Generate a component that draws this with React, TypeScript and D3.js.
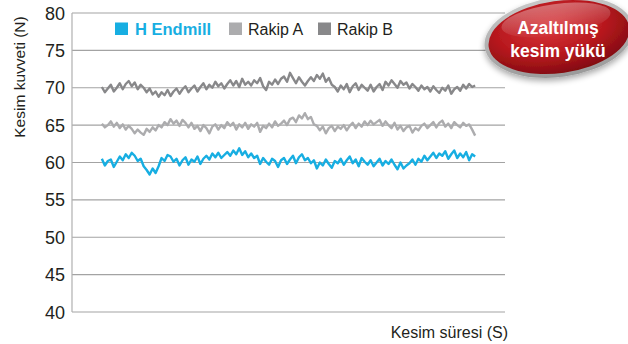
import React from "react";
import * as d3 from "d3";

const yTicks = [40, 45, 50, 55, 60, 65, 70, 75, 80];

const hEndmill = [
  60.5, 59.6, 60.2, 60.4, 59.4, 60.1, 60.8, 60.3, 61.1, 60.6,
  61.3, 60.9, 60.2, 60.5, 59.5, 59.0, 58.4, 59.2, 58.6, 59.5,
  60.6, 60.2, 61.0, 60.8, 60.1, 60.5, 59.6, 60.3, 60.7, 59.7,
  60.4, 60.1, 60.8, 59.8, 60.5, 60.9, 60.4, 61.2, 60.7, 61.3,
  60.6, 61.0, 61.4, 60.9, 61.6, 61.1, 61.9, 61.0, 61.5, 60.7,
  61.2, 60.6, 60.9, 59.8, 60.6, 60.1, 59.7, 60.5, 60.2, 59.4,
  60.3, 60.6, 59.8, 60.4, 60.9, 59.9, 60.7, 61.1, 60.3, 60.6,
  59.9, 60.3, 59.2, 60.0, 59.6, 60.4, 59.8, 59.3, 60.2, 59.9,
  60.5, 59.7, 60.3, 60.8, 59.9, 60.4, 59.5, 60.6, 60.1, 59.7,
  60.3, 59.5, 60.0, 60.5, 59.6, 60.2, 59.8, 60.4, 59.7, 59.1,
  60.0, 59.2, 59.6, 59.9, 60.4, 59.7, 60.5, 60.1, 60.9, 60.3,
  60.8, 61.3, 60.6, 61.2, 60.9, 61.5, 60.5, 61.1, 61.6, 60.6,
  61.2, 60.7, 61.4, 60.3, 61.1, 60.8,
];

const rakipA = [
  65.2, 64.7, 65.0, 65.5, 64.8, 65.3, 64.6, 65.1, 64.4, 64.9,
  64.5, 63.9, 64.4, 64.0, 63.7, 64.5, 64.1, 64.7, 64.3, 65.0,
  64.7, 65.4, 65.0, 65.8, 65.2, 65.6, 64.9, 65.7, 65.3, 64.7,
  65.3, 64.5, 64.9, 64.2, 65.0, 64.6, 63.9, 64.8, 65.1, 64.4,
  65.0, 64.6, 65.4, 64.9, 65.3, 64.4, 65.1, 64.7, 65.3, 64.5,
  65.1, 64.8, 65.3, 64.1, 64.9, 64.6, 65.2, 64.7, 65.5, 64.9,
  65.2, 65.6, 65.0, 65.8, 66.0, 65.4, 66.3, 65.9, 66.6, 65.8,
  66.1, 65.1, 64.9, 64.3, 64.8, 63.9, 64.6, 64.9, 64.2, 64.8,
  64.5, 65.0, 64.3, 64.9, 65.3, 64.6, 65.2, 64.8, 65.5, 65.0,
  65.6, 65.1, 65.4, 65.7, 64.9, 65.5, 65.0, 64.6, 65.3, 64.4,
  64.9, 64.2, 64.7, 64.9, 64.0, 64.6, 64.3, 64.9, 65.2, 64.6,
  65.0, 65.4, 64.7, 65.3, 65.6, 64.8, 65.2, 64.6, 65.4, 65.0,
  64.7, 65.3, 64.9, 65.1, 64.4, 63.6,
];

const rakipB = [
  70.1, 69.4, 69.9, 70.4, 69.5, 70.0, 70.6, 69.8, 70.5, 70.9,
  70.2, 70.7, 69.8, 70.4, 70.0, 69.4, 69.9, 69.1, 69.5, 68.8,
  69.4, 69.0, 69.7, 68.9, 69.5, 69.9, 69.2, 69.8, 70.2, 69.4,
  69.9, 70.3, 69.5, 70.1, 70.6, 69.8, 70.4, 70.0, 70.8, 70.2,
  70.6, 69.9, 70.5, 71.0, 70.3, 70.9, 70.1, 71.2, 70.4, 70.8,
  70.3, 71.0, 70.6, 71.3, 70.2, 69.7, 70.8, 70.4, 71.1, 70.5,
  71.2, 71.5, 70.8, 72.0, 71.3, 70.6, 71.4, 70.8, 70.3, 70.9,
  71.4, 70.9, 71.7, 71.2, 71.9, 70.8, 71.3, 70.4, 70.1, 69.5,
  70.3, 69.8, 70.5, 69.4, 70.2, 70.6, 69.7, 70.4, 70.0, 69.6,
  70.4, 69.5, 70.1, 70.5, 69.7, 70.8, 70.3, 71.0, 70.5, 70.0,
  70.9, 70.4, 70.7, 69.9, 70.5, 70.1, 69.6, 70.3, 69.8, 70.1,
  69.5, 70.2, 69.7, 69.3, 70.0, 69.6, 70.3, 69.2, 69.8, 70.1,
  69.6, 70.4, 69.9, 70.5, 70.1, 70.3,
];

const seriesNames = ["H Endmill", "Rakip A", "Rakip B"];
const seriesColors = ["#17aee2", "#acacae", "#88888a"];
const seriesData = [hEndmill, rakipA, rakipB];

const yTitle = "Kesim kuvveti (N)";
const xTitle = "Kesim süresi (S)";
const badgeLines = ["Azaltılmış", "kesim yükü"];

const FONT = "'Liberation Sans', Arial, Helvetica, sans-serif";

export default function App() {
  const W = 628;
  const H = 344;
  const left = 72;
  const right = 505;
  const y = d3.scaleLinear().domain([40, 80]).range([312, 13]);
  const x = d3.scaleLinear().domain([-10, 135]).range([left, right]);
  const line = d3
    .line<number>()
    .x((_, i) => x(i))
    .y((d) => y(d));

  return (
    <svg
      width={W}
      height={H}
      style={{ position: "absolute", left: 0, top: 0, background: "#fff" }}
      fontFamily={FONT}
    >
      <defs>
        <radialGradient id="badgeGrad" cx="45%" cy="35%" r="70%">
          <stop offset="0%" stopColor="#d9363a" />
          <stop offset="55%" stopColor="#b8181e" />
          <stop offset="100%" stopColor="#7a0a0e" />
        </radialGradient>
        <linearGradient id="rimGrad" x1="0" y1="0" x2="0" y2="1">
          <stop offset="0%" stopColor="#c8c8c8" />
          <stop offset="100%" stopColor="#9a9a9a" />
        </linearGradient>
        <linearGradient id="shine" x1="0" y1="0" x2="0" y2="1">
          <stop offset="0%" stopColor="#ffffff" stopOpacity={0.35} />
          <stop offset="100%" stopColor="#ffffff" stopOpacity={0} />
        </linearGradient>
        <filter id="shadow" x="-20%" y="-20%" width="140%" height="150%">
          <feGaussianBlur in="SourceAlpha" stdDeviation="3" />
          <feOffset dx="0" dy="3" result="b" />
          <feComponentTransfer>
            <feFuncA type="linear" slope="0.35" />
          </feComponentTransfer>
          <feMerge>
            <feMergeNode />
            <feMergeNode in="SourceGraphic" />
          </feMerge>
        </filter>
      </defs>

      {yTicks.map((t) => (
        <line
          key={t}
          x1={left}
          x2={right}
          y1={y(t)}
          y2={y(t)}
          stroke="#a3a3a3"
          strokeWidth={1.2}
        />
      ))}
      <line x1={left} x2={left} y1={y(80)} y2={y(40)} stroke="#b0b0b0" strokeWidth={1.2} />

      {yTicks.map((t) => (
        <text
          key={t}
          x={65}
          y={y(t) + 6.5}
          textAnchor="end"
          fontSize={18}
          fill="#231f20"
        >
          {t}
        </text>
      ))}

      <text
        transform={`translate(25,${77}) rotate(-90)`}
        textAnchor="middle"
        fontSize={15.5}
        fill="#231f20"
      >
        {yTitle}
      </text>
      <text x={508} y={338} textAnchor="end" fontSize={16} fill="#231f20">
        {xTitle}
      </text>

      {seriesData.map((s, k) => (
        <path
          key={k}
          d={line(s) || ""}
          fill="none"
          stroke={seriesColors[k]}
          strokeWidth={2.4}
          strokeLinejoin="round"
        />
      ))}

      {[
        { sx: 115, tx: 135 },
        { sx: 229, tx: 248 },
        { sx: 318, tx: 337 },
      ].map((p, k) => (
        <g key={k}>
          <rect x={p.sx} y={22.5} width={13} height={12.5} fill={seriesColors[k]} />
          <text
            x={p.tx}
            y={34.5}
            fontSize={k === 0 ? 16.5 : 16}
            fontWeight={k === 0 ? "bold" : "normal"}
            fill={k === 0 ? seriesColors[0] : "#231f20"}
          >
            {seriesNames[k]}
          </text>
        </g>
      ))}

      <g filter="url(#shadow)">
        <ellipse
          cx={559}
          cy={37}
          rx={75}
          ry={40}
          transform="rotate(-8 559 37)"
          fill="url(#rimGrad)"
        />
        <ellipse
          cx={559}
          cy={37}
          rx={71}
          ry={36}
          transform="rotate(-8 559 37)"
          fill="url(#badgeGrad)"
        />
        <ellipse
          cx={556}
          cy={20}
          rx={55}
          ry={16}
          transform="rotate(-8 556 20)"
          fill="url(#shine)"
        />
      </g>
      {badgeLines.map((l, i) => (
        <text
          key={i}
          x={558}
          y={34 + i * 23}
          textAnchor="middle"
          fontSize={17.5}
          fontWeight="bold"
          fill="#ffffff"
        >
          {l}
        </text>
      ))}
    </svg>
  );
}
